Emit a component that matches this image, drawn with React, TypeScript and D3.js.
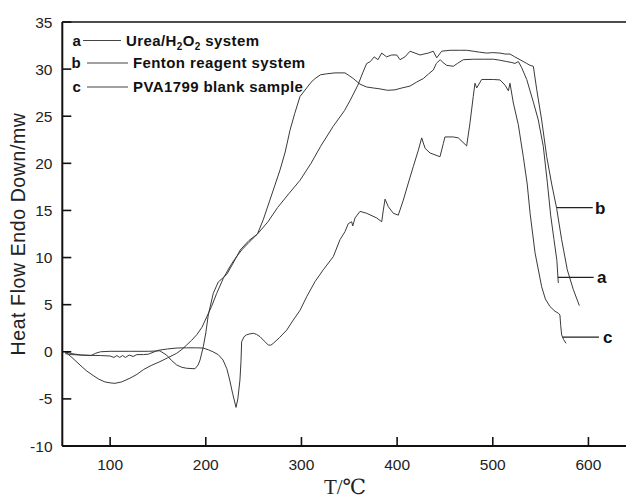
import React from "react";
import * as d3 from "d3";

const xTicks = [100, 200, 300, 400, 500, 600];
const yTicks = [-10, -5, 0, 5, 10, 15, 20, 25, 30, 35];

// Curve a: Urea/H2O2 system
const aT = [53,60,68.5,75,82,88,94.6,100,105,112,120.8,128,134.7,143,152,160,169.6,175,180,185,190.5,196,201,206,211.4,218.3,225,230,237.5,245,254,260,267,272,277.6,283,288,293,298.5,305.5,310,314.2,320,326.4,335,345.5,350,354.2,361.2,368.2,375,382.1,390,397.8,405,413.5,420,427.4,433,437.8,441,445,448,451.8,458.7,463,469.2,480,490,500.6,507,514.6,520,523.2,526.7,530,535.5,542.4,547.6,552.8,557,560.5,564,567,568.5];
const aV = [0,-0.6,-1.4,-2.0,-2.5,-2.9,-3.2,-3.3,-3.35,-3.2,-2.8,-2.4,-1.9,-1.45,-1.05,-0.65,-0.16,0.25,0.72,1.2,1.8,2.6,3.7,4.8,6.2,7.8,9.0,9.8,10.8,11.6,12.5,14.0,16.1,17.6,19.3,21.2,23.5,25.3,27.1,28.0,28.6,29.0,29.4,29.5,29.6,29.6,29.3,29.0,28.4,28.1,28.0,27.9,27.75,27.8,28.0,28.2,28.6,29.0,29.5,29.9,30.6,31.0,30.7,30.4,30.3,30.6,31.0,31.05,31.05,31.05,30.95,30.8,30.7,30.6,30.8,30.2,28.9,26.5,24.6,21.8,18.0,14.5,11.9,9.7,7.3];

// Curve b: Fenton reagent system
const bT = [53,60,70,80,85,90,100,120,140,152,159,164,169.6,175,180,188.7,192,194,197.4,200,202.6,207.8,213,221.8,228,236,245,254,265,275,287,298.5,310,320,333,345,351,359,364,368.2,372,376,380,383.9,389,394.3,399.6,403,408.2,413.5,418.7,424,428,432.6,437.8,441.4,446.6,455.3,465,472.7,479.6,486,493.6,500,507.6,513,518,523,528.5,535.5,539,542.4,546,551.1,556.4,561.6,566.8,572,577.9,584.2,590.5];
const bV = [0,-0.2,-0.35,-0.4,-0.15,0,0.05,0.05,0.05,0.1,-0.35,-0.9,-1.4,-1.65,-1.75,-1.8,-1.4,-0.87,0.54,2.0,3.9,6.2,7.4,8.2,9.3,10.8,11.8,12.5,13.8,15.3,16.8,18.2,20.0,21.8,23.9,25.6,26.7,28.3,29.6,30.6,30.8,31.3,31.0,31.7,31.3,31.5,31.5,31.0,31.3,31.9,31.7,31.5,31.6,31.7,31.9,31.2,31.9,32.0,32.0,32.0,31.9,31.8,31.7,31.75,31.7,31.6,31.6,31.3,31.0,30.6,30.4,30.3,27.8,24.6,20.7,17.8,15.2,11.9,8.7,6.6,4.9];

// Curve c: PVA1799 blank sample
const cT = [53,60,70,80,90,100,104,107,110,113,116,120,124,128,135,140,150,160,170,180,190,197,203,207.5,213,218,222,225,228,231.6,233.5,235.7,236.8,237.5,240,242.7,246,249.7,253,256.7,261,265.3,268,270.6,277,284.6,291,298.5,305.5,314.2,322.8,333.3,340.3,345.5,349,352.5,353.6,356,361.2,368.2,378.7,383.9,385.6,387.4,390.8,396,401.2,406.5,411.7,416.9,422.2,425.7,429.2,434.4,439.6,444.8,448.3,450,458.7,464,472.7,476.2,479.6,481.4,483.2,488.4,500.6,507.6,512.8,516.3,518,521.5,526.7,531.9,536,539,544.2,551.1,555,559.8,565,568.5,570.2,571,572,574,576.5];
const cV = [-0.2,-0.3,-0.35,-0.38,-0.4,-0.45,-0.6,-0.4,-0.6,-0.4,-0.6,-0.35,-0.5,-0.3,-0.3,-0.25,0.15,0.3,0.4,0.42,0.42,0.4,0.2,0,-0.3,-0.87,-1.8,-3.0,-4.4,-5.9,-5.0,-3.0,-1.0,1.07,1.6,1.8,1.9,1.96,1.85,1.6,1.15,0.72,0.7,0.9,1.5,2.3,3.3,4.4,5.85,7.45,8.7,10.1,11.9,12.75,13.6,13.8,13.35,14.2,14.9,14.7,14.2,13.8,15.05,16.2,15.4,14.7,14.5,16.1,17.9,19.65,21.4,22.7,21.6,21.1,20.9,20.7,22.1,22.8,22.8,22.7,21.85,24.3,27.1,28.5,28.0,28.9,28.9,28.85,28.3,27.7,28.5,26.4,24.1,20.7,17.8,14.7,10.5,6.9,5.6,4.8,4.3,4.1,3.9,2.8,1.8,1.3,0.9];

const legendKeys = ["a", "b", "c"];

export default function App() {
  const left = 62.3, right = 626.7, top = 22, bottom = 446;
  const x = d3.scaleLinear().domain([50, 640]).range([left, right]);
  const y = d3.scaleLinear().domain([-10, 35]).range([bottom, top]);
  const line = d3.line<[number, number]>().x(d => x(d[0])).y(d => y(d[1]));
  const mk = (T: number[], V: number[]) => T.map((t, i) => [t, V[i]] as [number, number]);
  const series = [mk(aT, aV), mk(bT, bV), mk(cT, cV)];
  const sans = "'Liberation Sans', Arial, sans-serif";

  // right-end label anchor values (data units)
  const endLabels = [
    { k: "b", t0: 567, t1: 604.5, v: 15.3, tx: 595 },
    { k: "a", t0: 568, t1: 605.5, v: 7.9, tx: 597 },
    { k: "c", t0: 573, t1: 611, v: 1.55, tx: 603 },
  ];

  return (
    <svg width={626} height={498} style={{ position: "absolute", left: 0, top: 0, background: "#fff" }}>
      <rect x={0} y={0} width={626} height={498} fill="#fff" />
      {series.map((s, i) => (
        <path key={i} d={line(s) || ""} fill="none" stroke="#3a3a3a" strokeWidth={1} />
      ))}
      {/* frame */}
      <line x1={left} x2={right} y1={top} y2={top} stroke="#111" strokeWidth={1.6} />
      <line x1={left} x2={left} y1={top} y2={bottom} stroke="#111" strokeWidth={2} />
      <line x1={left} x2={right} y1={bottom} y2={bottom} stroke="#111" strokeWidth={2} />
      {xTicks.map(t => (
        <g key={t}>
          <line x1={x(t)} x2={x(t)} y1={bottom} y2={bottom - 9} stroke="#111" strokeWidth={1.6} />
          <text x={x(t)} y={469.5} textAnchor="middle" fontFamily={sans} fontSize={15.5} fill="#222">{t}</text>
        </g>
      ))}
      {yTicks.map(t => (
        <g key={t}>
          <line x1={left} x2={left + 9} y1={y(t)} y2={y(t)} stroke="#111" strokeWidth={1.6} />
          <text x={52.5} y={y(t) + 5.6} textAnchor="end" fontFamily={sans} fontSize={15.5} fill="#222">{t}</text>
        </g>
      ))}
      <text transform={`translate(25,234) rotate(-90)`} textAnchor="middle" fontFamily={sans} fontSize={19.5} letterSpacing={0.6} fill="#222">Heat Flow Endo Down/mw</text>
      <text x={345} y={494} textAnchor="middle" fontFamily="'Liberation Serif', 'DejaVu Serif', serif" fontSize={21} fill="#222">T/℃</text>
      {/* legend */}
      <g fontFamily={sans} fontWeight="bold" fontSize={15} fill="#111">
        <text x={72.5} y={45.5}>a</text>
        <line x1={83} x2={121} y1={40.5} y2={40.5} stroke="#444" strokeWidth={1} />
        <text x={126} y={45.5} letterSpacing={0.4}>Urea/H<tspan fontSize={10} dy={4}>2</tspan><tspan dy={-4}>O</tspan><tspan fontSize={10} dy={4}>2</tspan><tspan dy={-4}> system</tspan></text>
        <text x={71.5} y={68}>{legendKeys[1]}</text>
        <line x1={87} x2={128} y1={63} y2={63} stroke="#444" strokeWidth={1} />
        <text x={133} y={68} letterSpacing={0.4}>Fenton reagent system</text>
        <text x={72.5} y={92}>{legendKeys[2]}</text>
        <line x1={87} x2={128} y1={87} y2={87} stroke="#444" strokeWidth={1} />
        <text x={133} y={92} letterSpacing={0.4}>PVA1799 blank sample</text>
      </g>
      {endLabels.map(l => (
        <g key={l.k}>
          <line x1={x(l.t0)} x2={x(l.t1)} y1={y(l.v)} y2={y(l.v)} stroke="#222" strokeWidth={1.2} />
          <text x={l.tx} y={y(l.v) + 6} fontFamily={sans} fontWeight="bold" fontSize={17} fill="#111">{l.k}</text>
        </g>
      ))}
    </svg>
  );
}
